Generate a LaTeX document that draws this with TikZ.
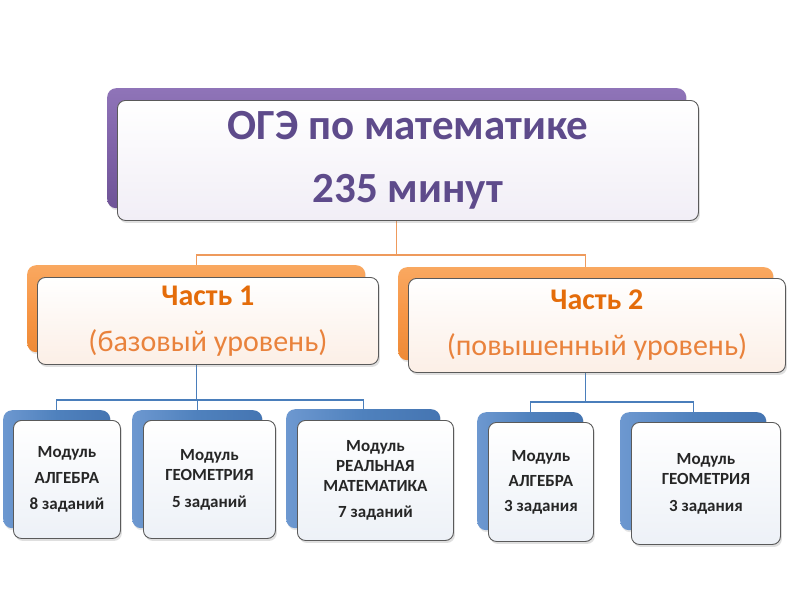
\documentclass[tikz,border=0pt]{standalone}
\usepackage{fontspec}
\setmainfont{Carlito}
\usetikzlibrary{shadows,backgrounds}
\definecolor{purpBack}{HTML}{7F62A8}
\definecolor{purpLight}{HTML}{8F74B8}
\definecolor{purpDark}{HTML}{6F5497}
\definecolor{purpText}{HTML}{5E4B8B}
\definecolor{purpFill}{HTML}{F1EEF6}
\definecolor{orBack}{HTML}{F79646}
\definecolor{orLight}{HTML}{F9A860}
\definecolor{orDark}{HTML}{EE8A36}
\definecolor{orText}{HTML}{E46C0A}
\definecolor{orText2}{HTML}{E9823C}
\definecolor{orFill}{HTML}{FCEFE6}
\definecolor{orLine}{HTML}{EE9A5C}
\definecolor{blBack}{HTML}{4F81BD}
\definecolor{blLight}{HTML}{6D98D0}
\definecolor{blDark}{HTML}{4575B2}
\definecolor{blFill}{HTML}{EDF1F7}
\definecolor{blLine}{HTML}{4A7EBB}
\definecolor{frameGray}{HTML}{5A5A5A}
\definecolor{modText}{HTML}{262626}
\begin{document}
\begin{tikzpicture}[x=1pt,y=-1pt,
  backbox/.style={rectangle, rounded corners=9pt, inner sep=0pt, anchor=north west,
    drop shadow={opacity=0.2, shadow xshift=1pt, shadow yshift=-2pt}},
  frontbox/.style={rectangle, rounded corners=8pt, inner sep=0pt, anchor=north west,
    draw=frameGray, line width=0.9pt, align=center,
    drop shadow={opacity=0.25, shadow xshift=1.5pt, shadow yshift=-2.5pt}},
  purpback/.style={backbox, top color=purpLight, bottom color=purpDark, middle color=purpBack},
  orback/.style={backbox, top color=orLight, bottom color=orDark, middle color=orBack},
  blback/.style={backbox, left color=blLight, right color=blDark, middle color=blBack},
  purpfront/.style={frontbox, top color=white, bottom color=purpFill, text=purpText,
    font=\fontsize{43}{63}\selectfont\bfseries},
  orfront/.style={frontbox, top color=white, bottom color=orFill, text=orText,
    font=\fontsize{30}{46}\selectfont},
  blfront/.style={frontbox, top color=white, bottom color=blFill, text=modText,
    font=\fontsize{17}{20}\selectfont\bfseries},
  oconn/.style={draw=orLine, line width=1.3pt},
  bconn/.style={draw=blLine, line width=1.2pt}
]
\useasboundingbox (0,0) rectangle (800,600);

% top level
\node[purpback, minimum width=579pt, minimum height=120pt] (topback) at (107,88) {};
\node[purpfront, minimum width=581pt, minimum height=120pt] (topfront) at (117,100)
  {ОГЭ по математике\\235 минут};

% part level
\node[orback, minimum width=338pt, minimum height=87pt] (p1back) at (27,265) {};
\node[orfront, minimum width=341pt, minimum height=87pt] (p1front) at (37,277)
  {\textbf{Часть 1}\\\textcolor{orText2}{(базовый уровень)}};
\node[orback, minimum width=375pt, minimum height=93pt] (p2back) at (398,267) {};
\node[orfront, minimum width=377pt, minimum height=94pt] (p2front) at (408,278)
  {\textbf{Часть 2}\\\textcolor{orText2}{(повышенный уровень)}};

% modules
\node[blback, minimum width=107pt, minimum height=118pt] (m1back) at (3,410) {};
\node[blfront, minimum width=107pt, minimum height=118pt] (m1front) at (13,420)
  {Модуль\\[6pt]АЛГЕБРА\\[6pt]8 заданий};
\node[blback, minimum width=130pt, minimum height=118pt] (m2back) at (132,410) {};
\node[blfront, minimum width=132pt, minimum height=118pt] (m2front) at (143,420)
  {Модуль\\ГЕОМЕТРИЯ\\[7pt]5 заданий};
\node[blback, minimum width=154pt, minimum height=119pt] (m3back) at (286,409) {};
\node[blfront, minimum width=156pt, minimum height=120pt] (m3front) at (297,420)
  {Модуль\\РЕАЛЬНАЯ\\МАТЕМАТИКА\\[6pt]7 заданий};
\node[blback, minimum width=106pt, minimum height=118pt] (m4back) at (477,412) {};
\node[blfront, minimum width=105pt, minimum height=119pt] (m4front) at (488,422)
  {Модуль\\[5pt]АЛГЕБРА\\[5pt]3 задания};
\node[blback, minimum width=146pt, minimum height=118pt] (m5back) at (620,412) {};
\node[blfront, minimum width=149pt, minimum height=122pt] (m5front) at (631,422)
  {Модуль\\ГЕОМЕТРИЯ\\[7pt]3 задания};

% connectors
\coordinate (j0) at (0,255);
\coordinate (j1) at (0,400);
\coordinate (j2) at (0,402);
\begin{scope}[on background layer]
  \fill[white] (0,0) rectangle (800,600);
  \draw[oconn] (topback.center) -- (topback.center |- j0) -| (p1back.north);
  \draw[oconn] (topback.center |- j0) -| (p2back.north);
  \draw[bconn] (p1back.center) -- (p1back.center |- j1) -| (m1back.north);
  \draw[bconn] (p1back.center |- j1) -| (m2back.north);
  \draw[bconn] (p1back.center |- j1) -| (m3back.north);
  \draw[bconn] (p2back.center) -- (p2back.center |- j2) -| (m4back.north);
  \draw[bconn] (p2back.center |- j2) -| (m5back.north);
\end{scope}
\end{tikzpicture}
\end{document}
